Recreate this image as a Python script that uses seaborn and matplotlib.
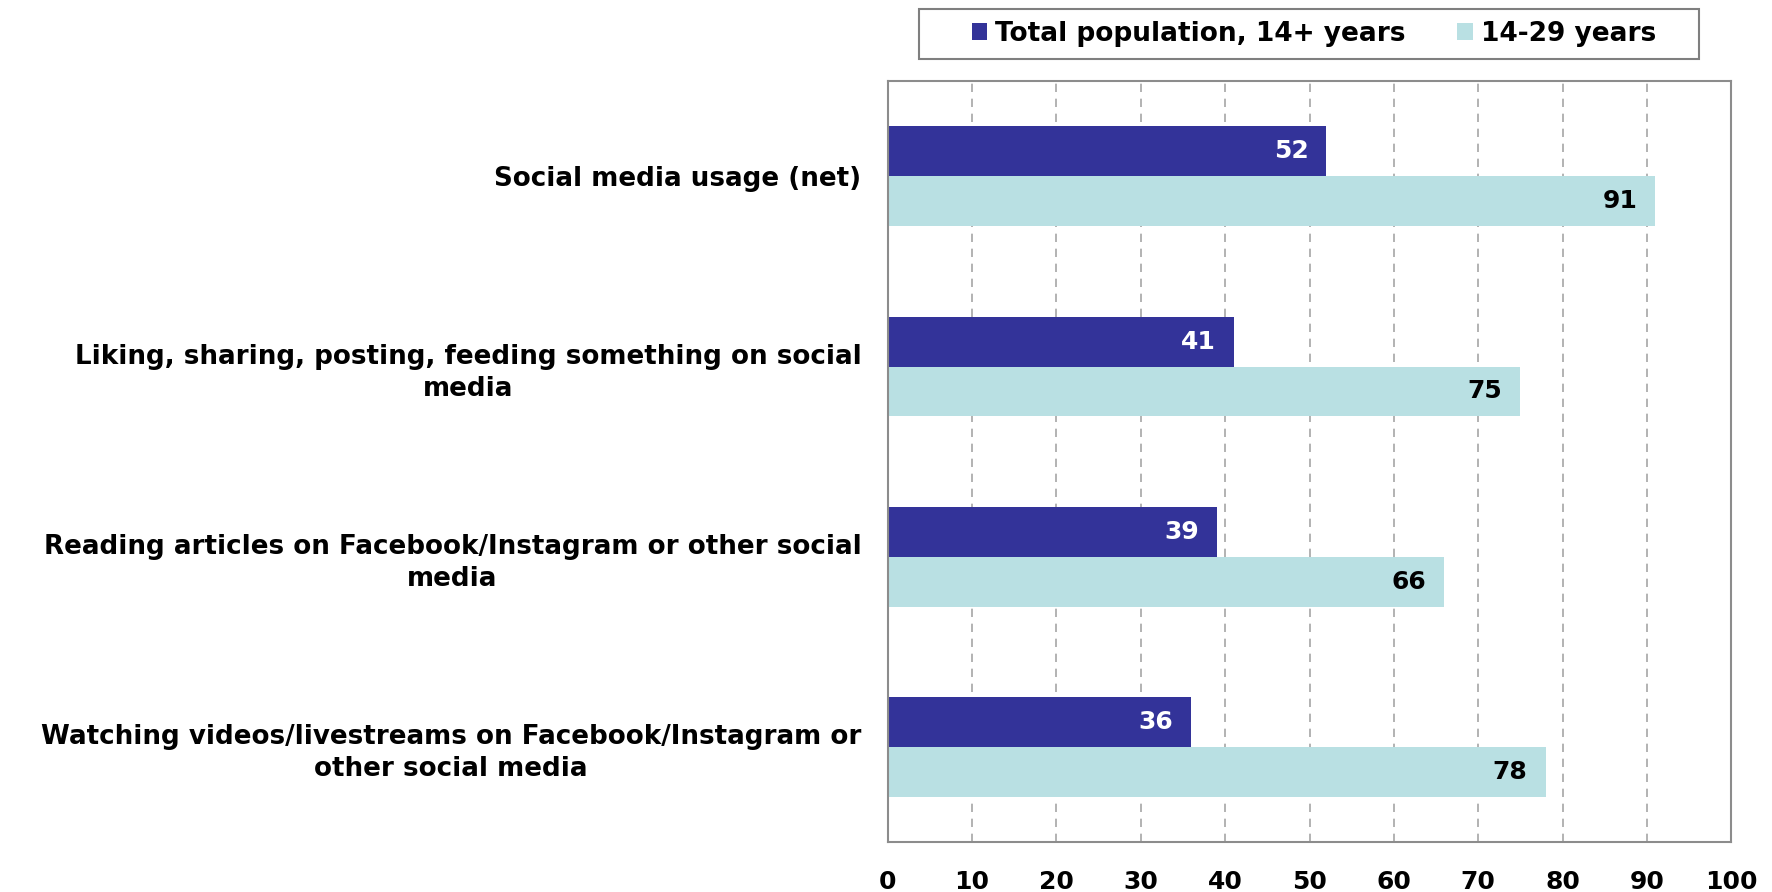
import matplotlib
matplotlib.use("Agg")
import matplotlib.pyplot as plt
from matplotlib.patches import Rectangle
import seaborn as sns
import pandas as pd

categories = [
    "Social media usage (net)",
    "Liking, sharing, posting, feeding something on social\nmedia",
    "Reading articles on Facebook/Instagram or other social\nmedia",
    "Watching videos/livestreams on Facebook/Instagram or\nother social media",
]
series_names = ["Total population, 14+ years", "14-29 years"]
total_pop = [52, 41, 39, 36]
young = [91, 75, 66, 78]
xticks = [0, 10, 20, 30, 40, 50, 60, 70, 80, 90, 100]
colors = ["#333399", "#B9E0E3"]

df = pd.DataFrame({
    "category": categories * 2,
    "series": [series_names[0]] * 4 + [series_names[1]] * 4,
    "value": total_pop + young,
})

sns.set_theme(style="white")
plt.rcParams["font.family"] = ["DejaVu Sans"]
plt.rcParams["text.color"] = "black"
plt.rcParams["xtick.color"] = "black"
plt.rcParams["ytick.color"] = "black"

fig = plt.figure(figsize=(17.72, 8.92), dpi=100)
ax = fig.add_axes([0.501, 0.056, 0.476, 0.853])

sns.barplot(data=df, y="category", x="value", hue="series", orient="h",
            palette=colors, width=0.524, ax=ax, saturation=1, legend=True,
            linewidth=0)

ax.set_xlim(0, 100)
ax.set_xticks(xticks)
ax.set_xticklabels([str(t) for t in xticks], fontsize=18, fontweight="bold")
ax.tick_params(axis="x", length=0, pad=20)
ax.tick_params(axis="y", length=0, pad=19)
ax.set_yticks(range(len(categories)))
ax.set_yticklabels(categories, fontsize=18.8, fontweight="bold", ha="right",
                   multialignment="center", linespacing=1.3)
ax.set_xlabel("")
ax.set_ylabel("")
ax.xaxis.grid(True, linestyle=(0, (5, 4)), color="#A6A6A6", linewidth=1.2)
ax.set_axisbelow(True)
for s in ax.spines.values():
    s.set_visible(True)
    s.set_color("#8C8C8C")
    s.set_linewidth(1.5)

for i, cont in enumerate(ax.containers):
    txtcolor = "white" if i == 0 else "black"
    anns = ax.bar_label(cont, labels=[str(int(v)) for v in cont.datavalues],
                        padding=-13, color=txtcolor, fontsize=18, fontweight="bold")
    for a in anns:
        a.set_horizontalalignment("right")

leg = ax.legend(loc="center", bbox_to_anchor=(0.7415, 1 - 34 / 892),
                bbox_transform=fig.transFigure, ncol=2, frameon=False,
                handlelength=0.6, handleheight=0.6, handletextpad=0.3, columnspacing=1.95,
                borderpad=0.0, borderaxespad=0, prop={"weight": "bold", "size": 19})
fig.patches.append(Rectangle((919 / 1772, 1 - 59 / 892), 780 / 1772, 50 / 892,
                             transform=fig.transFigure, fill=False,
                             edgecolor="#7F7F7F", linewidth=1.5, zorder=5))

fig.savefig("out.png", dpi=100)
